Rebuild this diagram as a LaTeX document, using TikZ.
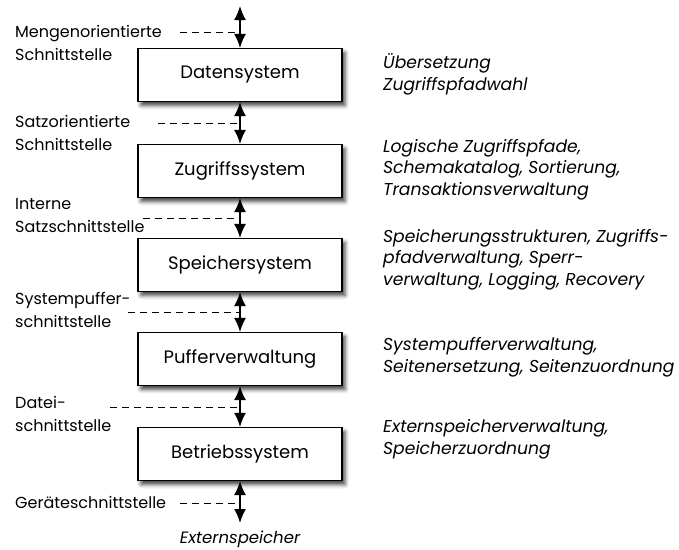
\documentclass[tikz,border=0pt]{standalone}
\usepackage{fontspec}
\setmainfont{Poppins}
\usetikzlibrary{arrows.meta,shadows.blur}
\tikzset{
  schicht/.style={draw, line width=1.2pt, fill=white, minimum width=204pt, minimum height=53pt,
    font=\fontsize{18}{20}\selectfont,
    blur shadow={shadow xshift=3pt, shadow yshift=-4pt, shadow blur radius=4pt, shadow opacity=75}},
  links/.style={anchor=base west, align=left, inner sep=0pt, font=\fontsize{16}{23}\selectfont},
  rechts/.style={anchor=base west, align=left, inner sep=0pt, font=\fontsize{17.2}{21.5}\selectfont\itshape},
  pfeil/.style={{Latex[length=14pt,width=12pt]}-{Latex[length=14pt,width=12pt]}, line width=1.6pt},
  strich/.style={line width=1pt, dash pattern=on 7pt off 5pt}
}
\begin{document}
\begin{tikzpicture}[x=1pt, y=-1pt]
  \useasboundingbox (0,0) rectangle (679,549);
  % Schichten
  \node[schicht] (ds) at (240,75) {Datensystem};
  \node[schicht] (zs) at (240,171) {Zugriffssystem};
  \node[schicht] (ss) at (240,265) {Speichersystem};
  \node[schicht] (pv) at (240,359) {Pufferverwaltung};
  \node[schicht] (bs) at (240,454) {Betriebssystem};
  \coordinate (oben) at (240,6);
  \coordinate (unten) at (240,523);
  % Pfeile
  \draw[pfeil] (oben) -- (ds.north);
  \draw[pfeil] (ds.south) -- (zs.north);
  \draw[pfeil] (zs.south) -- (ss.north);
  \draw[pfeil] (ss.south) -- (pv.north);
  \draw[pfeil] (pv.south) -- (bs.north);
  \draw[pfeil] (bs.south) -- (unten);
  % Schnittstellen (Anker = letzte Zeile)
  \node[links] (s1) at (15,60) {Mengenorientierte\\Schnittstelle};
  \node[links] (s2) at (15,150) {Satzorientierte\\Schnittstelle};
  \node[links] (s3) at (15,232) {Interne\\Satzschnittstelle};
  \node[links] (s4) at (15,327) {Systempuffer-\\schnittstelle};
  \node[links] (s5) at (15,431) {Datei-\\schnittstelle};
  \node[links] (s6) at (15,508) {Geräteschnittstelle};
  \coordinate (d1) at (180,32);
  \coordinate (d2) at (158,123);
  \coordinate (d3) at (143,218);
  \coordinate (d4) at (128,312);
  \coordinate (d5) at (110,407);
  \coordinate (d6) at (180,503);
  \foreach \d in {d1,d2,d3,d4,d5,d6}
    \draw[strich] (\d) -- (\d -| oben);
  % Aufgaben
  \node[rechts] (a1) at (383,90) {Übersetzung\\Zugriffspfadwahl};
  \node[rechts] (a2) at (383,195) {Logische Zugriffspfade,\\Schemakatalog, Sortierung,\\Transaktionsverwaltung};
  \node[rechts] (a3) at (383,285) {Speicherungsstrukturen, Zugriffs-\\pfadverwaltung, Sperr-\\verwaltung, Logging, Recovery};
  \node[rechts] (a4) at (383,372) {Systempufferverwaltung,\\Seitenersetzung, Seitenzuordnung};
  \node[rechts] (a5) at (383,454) {Externspeicherverwaltung,\\Speicherzuordnung};
  \node[anchor=base, inner sep=0pt, font=\fontsize{16.5}{20}\selectfont\itshape] (ext) at (240,543) {Externspeicher};
\end{tikzpicture}
\end{document}
